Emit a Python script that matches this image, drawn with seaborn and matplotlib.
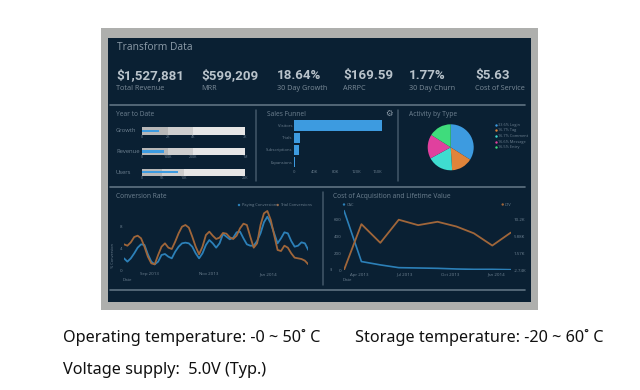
import pandas as pd
import numpy as np
import matplotlib
matplotlib.use('Agg')
import matplotlib.pyplot as plt
from matplotlib.patches import Rectangle
import seaborn as sns

# --- kpi row
kpi_values = ['$1,527,881', '$599,209', '18.64%', '$169.59', '1.77%', '$5.63']
kpi_labels = ['Total Revenue', 'MRR', '30 Day Growth', 'ARRPC', '30 Day Churn', 'Cost of Service']

# --- bullet charts, percent of full scale
bullet_rows = ['Growth', 'Revenue', 'Users']
bullet_band1 = [25, 25, 19]
bullet_band2 = [49.5, 49.5, 40]
bullet_full = [100, 100, 100]
bullet_actual = [16, 21, 34.5]
bullet_ticks = [['0', '2K', '4K', '7K'], ['0', '100K', '200K', '1M'], ['0', '5K', '10K', '25K']]

# --- sales funnel
funnel_stages = ['Visitors', 'Trials', 'Subscriptions', 'Expansions']
funnel_values = [170000, 11500, 9600, 2000]
funnel_ticks = [0, 40000, 80000, 120000, 160000]
funnel_ticklabels = ['0', '40K', '80K', '120K', '160K']

# --- activity pie
activity_labels = ['33.6% Login', '16.7% Tag', '16.7% Comment', '16.6% Message', '16.5% Entry']
activity_values = [34, 15, 18, 17, 16]
activity_colors = ['#3d9be0', '#e0843a', '#3fdcd0', '#e0409e', '#3fdc7c']

paying = [2.12, 1.52, 2.12, 3.03, 4.06, 4.67, 4.55, 2.85, 1.52, 1.03, 1.52, 2.73, 2.91, 2.42,
          2.12, 3.33, 4.24, 4.85, 4.97, 4.85, 4.24, 3.03, 2.12, 3.03, 4.55, 5.45, 4.85, 4.06, 4.85,
          6.55, 6.06, 5.58, 5.88, 6.85, 6.97, 5.76, 4.67, 4.42, 4.42, 5.27, 6.67, 8.67, 9.7,
          8.48, 6.67, 4.85, 5.76, 6.85, 6.67, 5.27, 4.24, 4.42, 5.03, 4.85, 3.64]
trial = [4.67, 4.42, 5.03, 6.0, 6.24, 5.76, 4.24, 2.42, 1.21, 1.03, 2.73, 4.24, 4.85, 4.06,
         3.82, 5.15, 6.67, 7.88, 8.18, 7.7, 6.06, 4.24, 2.85, 4.24, 6.36, 6.97, 6.24, 5.64, 5.88,
         6.73, 6.61, 5.94, 5.64, 6.24, 7.58, 8.42, 8.18, 6.06, 4.06, 4.85, 8.18, 10.3, 10.73,
         9.09, 6.36, 3.64, 3.45, 4.42, 4.06, 3.03, 2.24, 2.12, 2.0, 1.7, 1.03]

# --- cac / ltv
cost_dates = ['2013-03-02', '2013-04-06', '2013-05-14', '2013-06-20', '2013-07-29',
              '2013-09-06', '2013-10-14', '2013-11-18', '2013-12-25', '2014-01-31']
cac = [709, 101, 61, 28, 24, 20, 12, 8, 8, 4]
ltv = [-2.74, 9.06, 4.25, 10.2, 8.80, 9.67, 8.45, 6.70, 3.55, 6.87]

BG = '#0a2033'
MUTED = '#6f8292'
BLUE = '#2c80b8'
ORANGE = '#a0663a'
W, H = 640, 390

sns.set_theme(style='dark')
plt.rcParams['font.family'] = ['Open Sans', 'DejaVu Sans']

fig = plt.figure(figsize=(6.4, 3.9), dpi=100, facecolor='white')


def px_axes(x0, y0, x1, y1, z=2):
    # rect given in image pixels, y from the top
    ax_ = fig.add_axes([x0 / W, 1 - y1 / H, (x1 - x0) / W, (y1 - y0) / H], zorder=z)
    ax_.patch.set_alpha(0)
    for s in ax_.spines.values():
        s.set_visible(False)
    ax_.grid(False)
    return ax_


# screen chrome and all loose text live on a pixel-coordinate layer
bg = px_axes(0, 0, W, H, z=1)
bg.set_xlim(0, W)
bg.set_ylim(H, 0)
bg.axis('off')
bg.add_patch(Rectangle((101, 28), 437, 282, fc='#aeafad', ec='none'))
bg.add_patch(Rectangle((108, 38), 423, 264, fc=BG, ec='none'))

top = px_axes(0, 0, W, H, z=5)
top.set_xlim(0, W)
top.set_ylim(H, 0)
top.axis('off')

top.text(117, 47, 'Transform Data', color='#8d9ca9', fontsize=7.4, va='center')

kpi_x = [116, 201, 277, 343, 409, 475]
for x_, v_, l_ in zip(kpi_x, kpi_values, kpi_labels):
    top.text(x_, 75.5, v_, color='#b9c3cb', fontsize=9.6, fontweight='bold', va='center', family='Roboto')
    top.text(x_, 88, l_, color='#7c8c99', fontsize=5.2, va='center')

# separators
for y_ in [105, 186.5, 290]:
    bg.plot([110, 525], [y_, y_], color='#5f7282', lw=1.2)
for x_, y0_, y1_ in [(256, 110, 181), (397.5, 110, 181), (322.7, 192, 285)]:
    bg.plot([x_, x_], [y0_, y1_], color='#435769', lw=1.1)

# --- year to date bullets
top.text(116, 114, 'Year to Date', color=MUTED, fontsize=4.8, va='center')
bullet_df = pd.DataFrame({'row': bullet_rows, 'band1': bullet_band1, 'band2': bullet_band2,
                          'full': bullet_full, 'actual': bullet_actual})
ax = px_axes(142.3, 120.7, 245.5, 182.5)
for col_, shade_, bar_h in [('full', '#e6e6e6', 0.34), ('band2', '#cecece', 0.34),
                            ('band1', '#b8b8b8', 0.34), ('actual', '#3d9be0', 0.12)]:
    sns.barplot(data=bullet_df, y='row', x=col_, color=shade_, width=bar_h, saturation=1, linewidth=0, ax=ax)
ax.set_xlim(0, 100)
ax.set(xlabel='', ylabel='', xticks=[], yticks=[])
for i_, row_ in enumerate(bullet_rows):
    y_ = 131 + i_ * 20.6
    top.text(116, y_, row_, color=MUTED, fontsize=4.2, va='center')
    fracs_ = [0, bullet_band1[i_], bullet_band2[i_], bullet_full[i_]]
    for frac_, t_ in zip(fracs_, bullet_ticks[i_]):
        top.text(142.3 + 1.032 * frac_, y_ + 5.6, t_, color=MUTED, fontsize=2.6, ha='center', va='center')

# --- sales funnel
top.text(267, 114, 'Sales Funnel', color=MUTED, fontsize=4.8, va='center')
top.text(389, 113.5, '\u2699', color='#8d9ca9', fontsize=6, ha='center', va='center', family='DejaVu Sans')
ax = px_axes(294, 119.5, 382.4, 168.2)
sns.barplot(x=funnel_values, y=funnel_stages, color='#3d9be0', width=0.85, saturation=1, linewidth=0, ax=ax)
ax.set_xlim(0, 170000)
ax.set_xticks(funnel_ticks, funnel_ticklabels)
ax.tick_params(axis='x', length=0, labelsize=3, labelcolor=MUTED, pad=1.5)
ax.tick_params(axis='y', length=0, labelsize=3, labelcolor=MUTED, pad=1)
ax.set(xlabel='', ylabel='')

# --- activity pie
top.text(409, 114, 'Activity by Type', color=MUTED, fontsize=4.8, va='center')
ax = px_axes(427.7, 124.3, 473.7, 170.3)
ax.pie(activity_values, colors=activity_colors, startangle=90, counterclock=False, radius=1,
       wedgeprops={'linewidth': 0})
ax.set_xlim(-1, 1)
ax.set_ylim(-1, 1)
for i_, (lab_, col_) in enumerate(zip(activity_labels, activity_colors)):
    y_ = 124.7 + i_ * 5.65
    top.scatter([495.7], [y_], s=3, color=col_, linewidths=0)
    top.text(498.5, y_, lab_, color=MUTED, fontsize=2.8, va='center')

# --- conversion rate
top.text(116, 197, 'Conversion Rate', color=MUTED, fontsize=4.8, va='center')
steps = pd.date_range('2013-08-06', periods=len(paying), freq='84h')
conv_df = pd.DataFrame({'date': list(steps) * 2, 'rate': paying + trial,
                        'series': ['Paying'] * len(paying) + ['Trial'] * len(trial)})
ax = px_axes(124, 203, 308.3, 270)
sns.lineplot(data=conv_df, x='date', y='rate', hue='series', palette={'Paying': BLUE, 'Trial': ORANGE},
             hue_order=['Paying', 'Trial'], lw=1.3, legend=False, ax=ax)
ax.set_xlim(steps[0], steps[-1])
ax.set_ylim(0, 67 / 5.5)
ax.set_yticks([0, 4, 8], ['0', '4', '8'])
ax.set_xticks(pd.to_datetime(['2013-09-01', '2013-11-01', '2014-01-01']), ['Sep 2013', 'Nov 2013', 'Jan 2014'])
ax.tick_params(axis='both', length=0, labelsize=3.2, labelcolor=MUTED, pad=1.5)
ax.set(xlabel='', ylabel='')
top.text(113, 255, '% Conversion', color=MUTED, fontsize=2.8, rotation=90, ha='center', va='center')
top.text(127, 280, 'Date', color=MUTED, fontsize=3.2, ha='center', va='center')
top.scatter([239, 277.7], [205, 205], s=3, color=[BLUE, ORANGE], linewidths=0)
top.text(241.5, 205, 'Paying Conversions', color=MUTED, fontsize=2.9, va='center')
top.text(280, 205, 'Trial Conversions', color=MUTED, fontsize=2.9, va='center')

# --- cost of acquisition / lifetime value
top.text(333, 197, 'Cost of Acquisition and Lifetime Value', color=MUTED, fontsize=4.8, va='center')
dates = pd.to_datetime(cost_dates)
ax = px_axes(344, 203, 510.7, 270)
sns.lineplot(x=dates, y=cac, color=BLUE, lw=1.2, ax=ax)
ax.set_xlim(dates[0], dates[-1])
ax.set_ylim(0, 800)
ax.set_yticks([0, 200, 400, 600], ['0', '200', '400', '600'])
ax.set_xticks(pd.to_datetime(['2013-04-01', '2013-07-01', '2013-10-01', '2014-01-01']),
              ['Apr 2013', 'Jul 2013', 'Oct 2013', 'Jan 2014'])
ax.tick_params(axis='both', length=0, labelsize=3.2, labelcolor=MUTED, pad=2)
ax.set(xlabel='', ylabel='')
ax2 = ax.twinx()
ax2.patch.set_alpha(0)
for s in ax2.spines.values():
    s.set_visible(False)
ax2.grid(False)
sns.lineplot(x=dates, y=ltv, color=ORANGE, lw=1.3, ax=ax2)
ax2.set_ylim(-2.74, -2.74 + 800 * 4.31 / 200)
ax2.set_yticks([-2.74, 1.57, 5.88, 10.19], ['-2.74K', '1.57K', '5.88K', '10.2K'])
ax2.tick_params(axis='y', length=0, labelsize=3.2, labelcolor=MUTED, pad=2)
ax2.set(xlabel='', ylabel='')
top.scatter([344, 502.7], [204.5, 204.5], s=3, color=[BLUE, ORANGE], linewidths=0)
top.text(346.5, 204.5, 'CAC', color=MUTED, fontsize=2.9, va='center')
top.text(505, 204.5, 'LTV', color=MUTED, fontsize=2.9, va='center')
top.text(347, 280, 'Date', color=MUTED, fontsize=3.2, ha='center', va='center')
top.text(331, 270, '$', color=MUTED, fontsize=2.9, ha='center', va='center')

# --- caption under the screen
cap = {'color': '#111111', 'fontsize': 11.7, 'va': 'center', 'family': ['Noto Sans', 'DejaVu Sans']}
top.text(63, 338, 'Operating temperature: -0 ~ 50\u02da C', **cap)
top.text(355, 338, 'Storage temperature: -20 ~ 60\u02da C', **cap)
top.text(63, 370, 'Voltage supply:  5.0V (Typ.)', **cap)

plt.savefig('out.png', dpi=100)
